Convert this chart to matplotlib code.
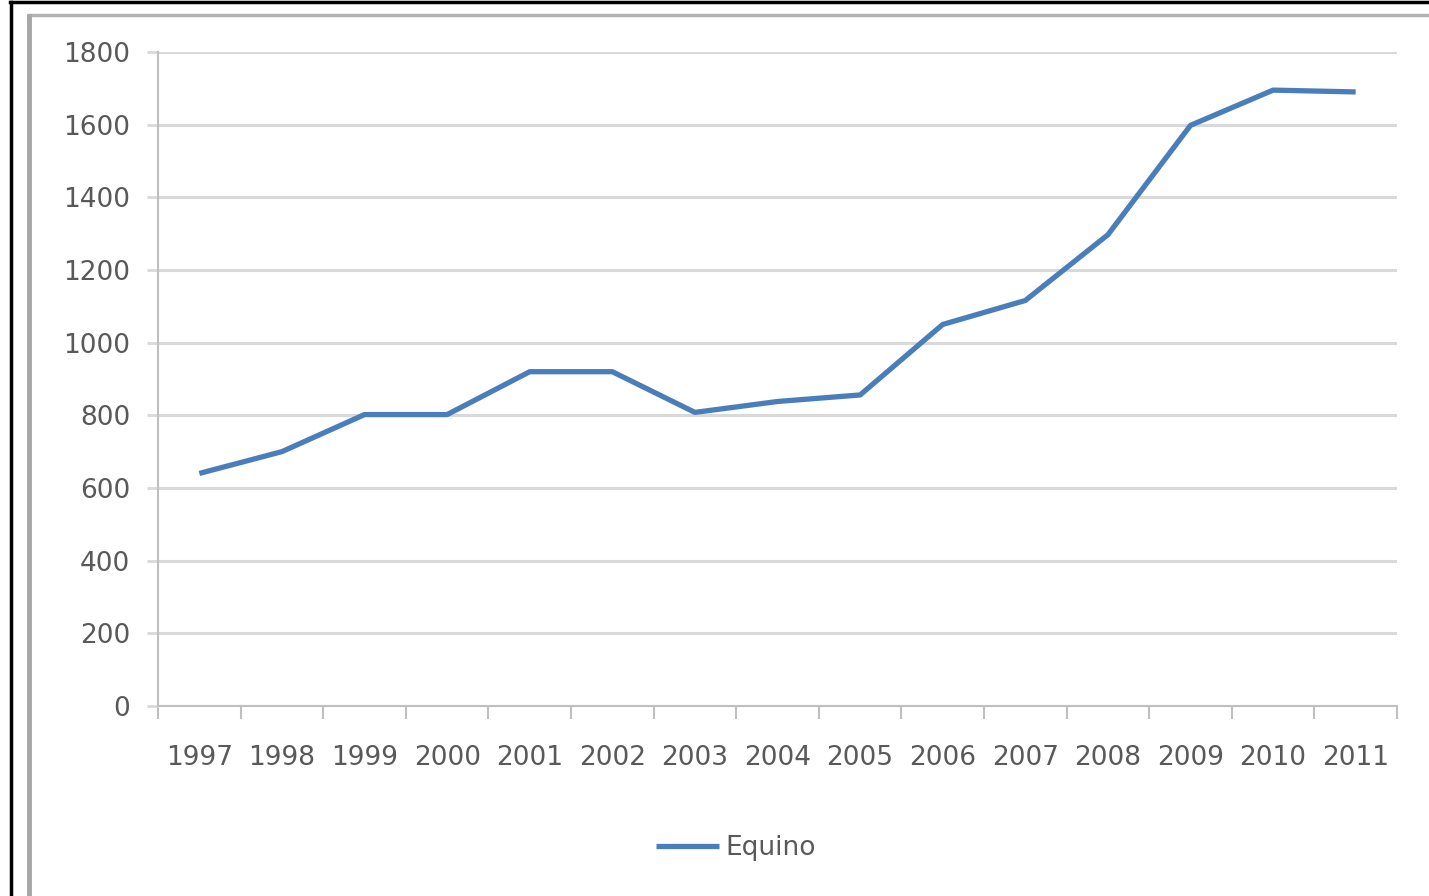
import matplotlib
matplotlib.use("Agg")
import matplotlib.pyplot as plt
from matplotlib.lines import Line2D
import numpy as np

years = ["1997", "1998", "1999", "2000", "2001", "2002", "2003", "2004",
         "2005", "2006", "2007", "2008", "2009", "2010", "2011"]
equino = [640, 700, 802, 802, 920, 920, 808, 838, 856, 1050, 1116, 1297, 1598, 1695, 1690]
y_ticks = [0, 200, 400, 600, 800, 1000, 1200, 1400, 1600, 1800]

text_color = "#595959"
grid_color = "#d9d9d9"
line_color = "#4a7ebb"

fig = plt.figure(figsize=(14.29, 8.96), dpi=100)
ax = fig.add_axes([0.1106, 0.2121, 0.8670, 0.7299])

x = np.arange(len(years))
ax.plot(x, equino, color=line_color, linewidth=3.8, solid_joinstyle="round",
        solid_capstyle="butt", label="Equino", zorder=3)

ax.set_xlim(-0.5, len(years) - 0.5)
ax.set_ylim(0, 1800)
ax.set_yticks(y_ticks)
ax.set_yticklabels([str(v) for v in y_ticks])
ax.yaxis.grid(True, color=grid_color, linewidth=2.2)
ax.set_axisbelow(True)

ax.set_xticks(x)
ax.set_xticklabels(years)
ax.set_xticks(np.arange(-0.5, len(years), 1.0), minor=True)
ax.tick_params(axis="x", which="major", length=0, pad=28, labelsize=19,
               labelcolor=text_color)
ax.tick_params(axis="x", which="minor", length=9, width=1.5, color="#bfbfbf")
ax.tick_params(axis="y", length=8, width=2, color=grid_color, pad=12,
               labelsize=19, labelcolor=text_color)

for side in ["top", "right"]:
    ax.spines[side].set_visible(False)
ax.spines["left"].set_color("#bfbfbf")
ax.spines["left"].set_linewidth(1.5)
ax.spines["bottom"].set_color("#bfbfbf")
ax.spines["bottom"].set_linewidth(1.5)

fig.legend(loc="center", bbox_to_anchor=(0.515, 0.0536), frameon=False,
           fontsize=19, labelcolor=text_color, handlelength=2.4, handletextpad=0.25)

# outer frame of the pasted chart
fig.add_artist(Line2D([0.007, 1.0], [0.9975, 0.9975], color="black", linewidth=2.5))
fig.add_artist(Line2D([0.0075, 0.0075], [0.0, 0.998], color="black", linewidth=2.5))
fig.add_artist(Line2D([0.019, 1.0], [0.983, 0.983], color="#b3b3b3", linewidth=2.5,
                      solid_capstyle="butt"))
fig.add_artist(Line2D([0.0205, 0.0205], [0.0, 0.984], color="#a6a6a6", linewidth=3.5,
                      solid_capstyle="butt"))

fig.savefig("out.png", dpi=100, facecolor="white")
